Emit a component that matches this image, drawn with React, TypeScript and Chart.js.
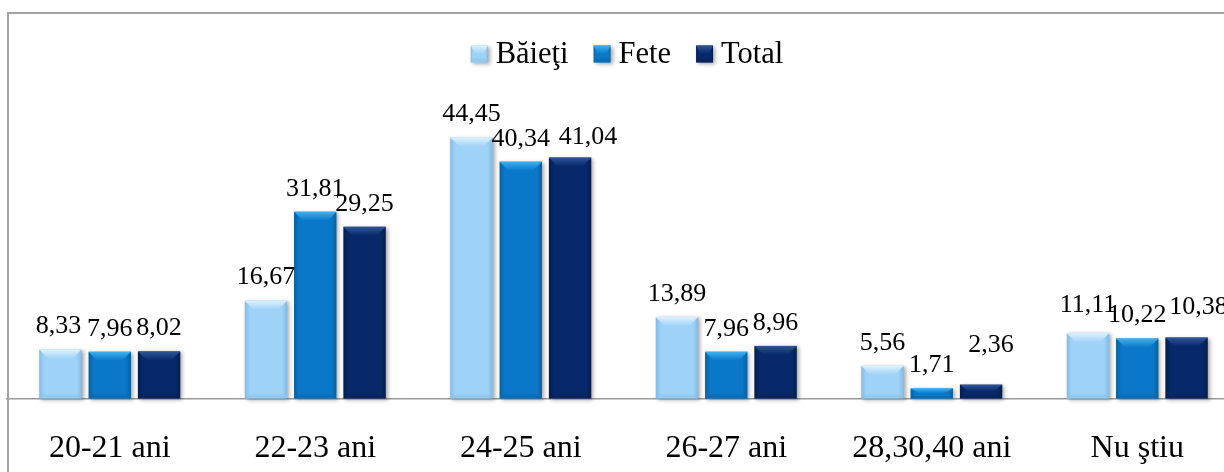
import React, { useEffect, useRef } from "react";
import { Chart, registerables } from "chart.js";
Chart.register(...registerables);

const categories = ["20-21 ani", "22-23 ani", "24-25 ani", "26-27 ani", "28,30,40 ani", "Nu ştiu"];
const seriesNames = ["Băieţi", "Fete", "Total"];
const baieti = [8.33, 16.67, 44.45, 13.89, 5.56, 11.11];
const fete = [7.96, 31.81, 40.34, 7.96, 1.71, 10.22];
const total = [8.02, 29.25, 41.04, 8.96, 2.36, 10.38];

const FONT = "'Liberation Serif', 'Times New Roman', serif";
const palette = [
  { body: "#9fd2f7", top: "#dcf2ff", edge: "#82bbe8", dark: "#8ac4ee" },
  { body: "#0a78c8", top: "#3db0f1", edge: "#07609f", dark: "#0868b0" },
  { body: "#07296a", top: "#2f5597", edge: "#041d4d", dark: "#062259" },
];
// Excel-style nudges of a few data labels (dataset-index: [dx, dy])
const labelNudge: Record<string, [number, number]> = {
  "0-0": [-2, 0],
  "2-2": [18, 3],
  "2-4": [10, -16],
  "0-5": [0, -5],
  "2-5": [12, -7],
};

function fmt(v: number) {
  return v.toFixed(2).replace(".", ",");
}

function drawBevelBar(ctx: CanvasRenderingContext2D, l: number, t: number, r: number, b: number, c: any) {
  const w = r - l;
  const h = b - t;
  if (h <= 0) return;
  ctx.save();
  ctx.shadowColor = "rgba(0,0,0,0.35)";
  ctx.shadowBlur = 4;
  ctx.shadowOffsetX = 2;
  ctx.shadowOffsetY = 1;
  const g = ctx.createLinearGradient(l, 0, r, 0);
  g.addColorStop(0, c.edge);
  g.addColorStop(0.12, c.body);
  g.addColorStop(0.88, c.body);
  g.addColorStop(1, c.edge);
  ctx.fillStyle = g;
  ctx.fillRect(l, t, w, h);
  ctx.restore();

  const bev = Math.min(9, h / 2);
  const inset = Math.min(9, w / 4);
  ctx.save();
  const tg = ctx.createLinearGradient(0, t, 0, t + bev);
  tg.addColorStop(0, c.top);
  tg.addColorStop(1, c.body);
  ctx.fillStyle = tg;
  ctx.beginPath();
  ctx.moveTo(l, t);
  ctx.lineTo(r, t);
  ctx.lineTo(r - inset, t + bev);
  ctx.lineTo(l + inset, t + bev);
  ctx.closePath();
  ctx.fill();
  const bb = Math.min(4, h / 4);
  ctx.fillStyle = c.dark;
  ctx.globalAlpha = 0.6;
  ctx.beginPath();
  ctx.moveTo(l + 2, b - bb);
  ctx.lineTo(r - 2, b - bb);
  ctx.lineTo(r, b);
  ctx.lineTo(l, b);
  ctx.closePath();
  ctx.fill();
  ctx.restore();
}

const bevelPlugin = {
  id: "bevelBars",
  afterDatasetsDraw(chart: any) {
    const ctx = chart.ctx as CanvasRenderingContext2D;
    chart.data.datasets.forEach((ds: any, di: number) => {
      const meta = chart.getDatasetMeta(di);
      meta.data.forEach((el: any, i: number) => {
        const { x, y, base, width } = el.getProps(["x", "y", "base", "width"], true);
        drawBevelBar(ctx, x - width / 2, y, x + width / 2, base, palette[di]);
      });
    });
    chart.data.datasets.forEach((ds: any, di: number) => {
      const meta = chart.getDatasetMeta(di);
      meta.data.forEach((el: any, i: number) => {
        const { x, y } = el.getProps(["x", "y"], true);
        const nudge = labelNudge[`${di}-${i}`] || [0, 0];
        ctx.save();
        ctx.font = `26px ${FONT}`;
        ctx.fillStyle = "#000";
        ctx.textAlign = "center";
        ctx.textBaseline = "middle";
        ctx.fillText(fmt(ds.data[i]), x + nudge[0], y - 23 + nudge[1]);
        ctx.restore();
      });
    });
  },
  afterDraw(chart: any) {
    const ctx = chart.ctx as CanvasRenderingContext2D;
    ctx.save();
    ctx.font = `30.5px ${FONT}`;
    ctx.textBaseline = "middle";
    ctx.textAlign = "left";
    const box = 17;
    const gapText = 8;
    const gapItem = 25;
    const widths = seriesNames.map((n) => ctx.measureText(n).width);
    const totalW = widths.reduce((a, w) => a + box + gapText + w, 0) + gapItem * (seriesNames.length - 1);
    let x = 627 - totalW / 2;
    const cy = 54;
    seriesNames.forEach((n, i) => {
      drawBevelBar(ctx, x, cy - box / 2, x + box, cy + box / 2, palette[i]);
      ctx.fillStyle = "#000";
      ctx.fillText(n, x + box + gapText, cy + 1);
      x += box + gapText + widths[i] + gapItem;
    });
    ctx.restore();
  },
};

export default function App() {
  const ref = useRef<HTMLCanvasElement | null>(null);
  useEffect(() => {
    if (!ref.current) return;
    const chart = new Chart(ref.current, {
      type: "bar",
      data: {
        labels: categories,
        datasets: [
          { label: seriesNames[0], data: baieti, backgroundColor: "rgba(0,0,0,0)" },
          { label: seriesNames[1], data: fete, backgroundColor: "rgba(0,0,0,0)" },
          { label: seriesNames[2], data: total, backgroundColor: "rgba(0,0,0,0)" },
        ],
      },
      options: {
        animation: false,
        responsive: false,
        maintainAspectRatio: false,
        events: [],
        datasets: { bar: { categoryPercentage: 0.72, barPercentage: 0.86 } },
        layout: { padding: { left: 7, right: 20, top: 105, bottom: 0 } },
        plugins: { legend: { display: false }, tooltip: { enabled: false } },
        scales: {
          x: {
            grid: { display: false, drawTicks: false },
            border: { display: true, color: "#9a9a9a", width: 1.5 },
            ticks: { color: "#000", font: { family: FONT, size: 32 }, padding: 31, maxRotation: 0, autoSkip: false },
            afterFit: (s: any) => {
              s.height = 73.5;
            },
          },
          y: { display: false, min: 0, max: 50 },
        },
      },
      plugins: [bevelPlugin],
    });
    return () => chart.destroy();
  }, []);
  return (
    <div style={{ position: "absolute", left: 0, top: 0, width: 1224, height: 472, overflow: "hidden", background: "#fff" }}>
      <div
        style={{
          position: "absolute",
          left: 7,
          top: 12,
          width: 1400,
          height: 600,
          border: "2px solid #a3a3a3",
          boxSizing: "border-box",
        }}
      />
      <canvas ref={ref} width={1260} height={472} style={{ position: "absolute", left: 0, top: 0, width: 1260, height: 472 }} />
    </div>
  );
}
